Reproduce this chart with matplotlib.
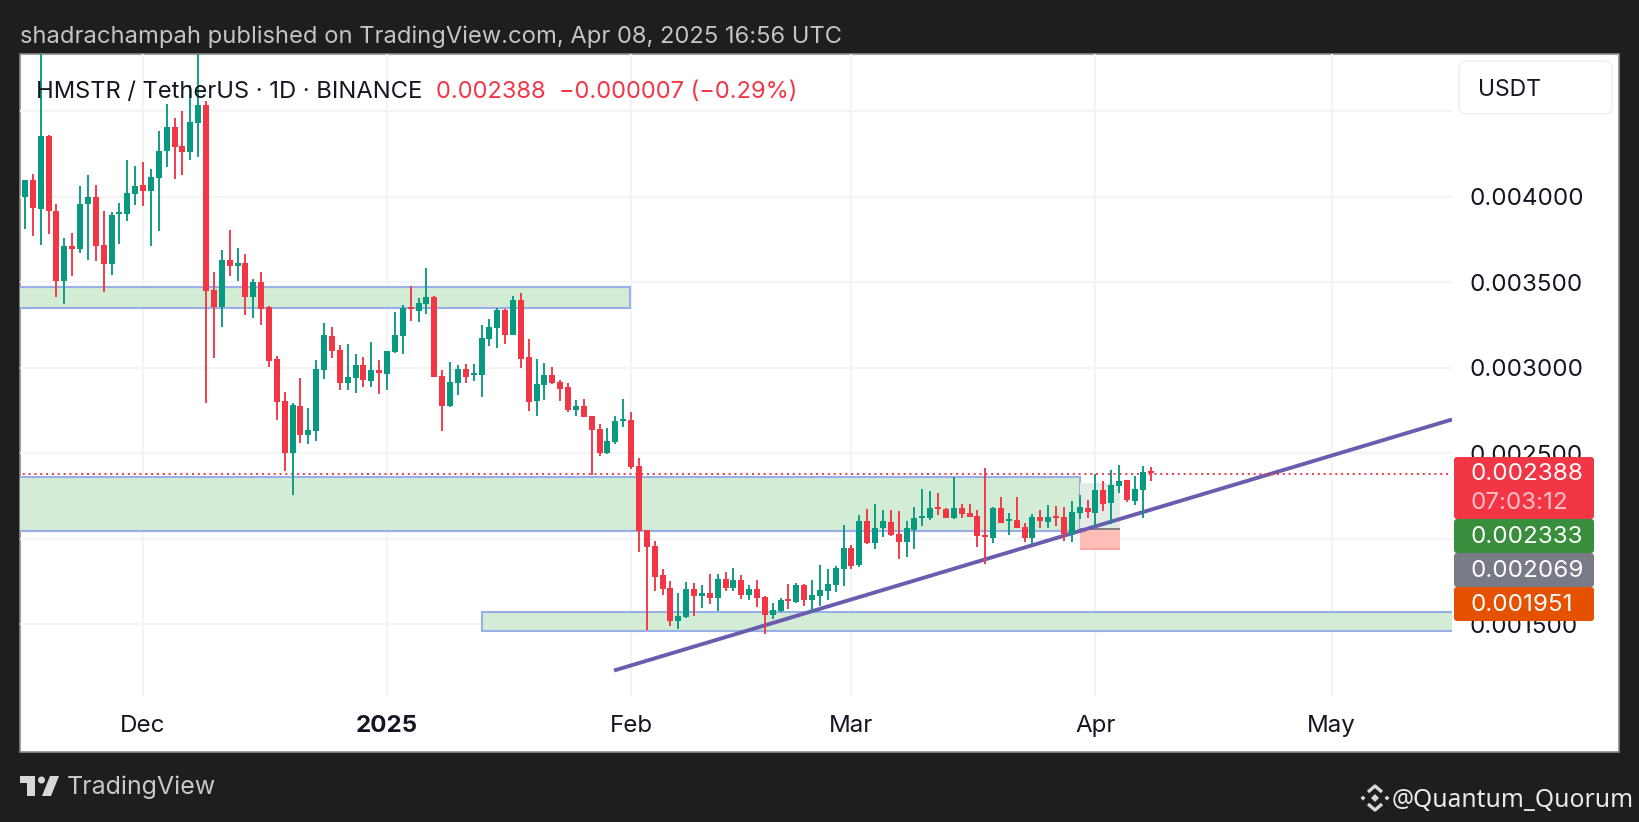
import numpy as np
import matplotlib
matplotlib.use("Agg")
import matplotlib.pyplot as plt
from matplotlib.patches import Rectangle, FancyBboxPatch, Polygon, Circle

plt.rcParams['font.family'] = ['Inter', 'DejaVu Sans']

# candles, prices in millionths of USDT, daily from 2024-11-16
opens = [4000, 4097, 3928, 4355, 3916, 3507, 3712, 3694, 3957, 3998, 3717, 3606, 3899, 3899, 4016, 4068,
         4033, 4109, 4267, 4407, 4296, 4261, 4431, 4536, 3454, 3355, 3630, 3595, 3612, 3413, 3501, 3355,
         3051, 2805, 2501, 2776, 2606, 2630, 2986, 3185, 3103, 2910, 2940, 3016, 2922, 2986, 2963, 3092,
         3185, 3355, 3331, 3372, 3413, 2951, 2776, 2910, 2992, 2957, 2957, 3168, 3232, 3337, 3191, 3396,
         3062, 2805, 2899, 2957, 2916, 2887, 2752, 2776, 2717, 2641, 2501, 2565, 2688, 2694, 2425, 2051,
         1957, 1788, 1712, 1519, 1542, 1706, 1665, 1682, 1653, 1764, 1712, 1758, 1671, 1706, 1659, 1554,
         1577, 1647, 1630, 1729, 1641, 1665, 1694, 1729, 1823, 1946, 1846, 2103, 1975, 2062, 2098, 2027,
         1981, 2051, 2121, 2121, 2185, 2174, 2121, 2179, 2150, 2133, 2022, 2004, 2179, 2103, 2109, 2068,
         2004, 2127, 2098, 2133, 2127, 2027, 2150, 2179, 2150, 2285, 2209, 2308, 2343, 2220, 2285, 2396]
closes = [4097, 3936, 4355, 3916, 3507, 3712, 3694, 3957, 3998, 3712, 3606, 3893, 3910, 4021, 4062, 4033,
          4115, 4267, 4407, 4290, 4261, 4437, 4536, 3448, 3355, 3630, 3595, 3612, 3413, 3501, 3343, 3039,
          2799, 2501, 2782, 2606, 2636, 2992, 3191, 3097, 2910, 2945, 3016, 2928, 2986, 2969, 3097, 3191,
          3349, 3343, 3378, 3413, 2945, 2776, 2916, 2992, 2945, 2969, 3173, 3238, 3337, 3191, 3396, 3051,
          2799, 2905, 2957, 2910, 2875, 2752, 2776, 2712, 2636, 2501, 2571, 2688, 2700, 2419, 2045, 1951,
          1776, 1706, 1519, 1548, 1706, 1665, 1682, 1653, 1764, 1712, 1758, 1671, 1706, 1653, 1554, 1583,
          1641, 1636, 1729, 1641, 1671, 1700, 1735, 1829, 1946, 1840, 2103, 1975, 2062, 2103, 2022, 1981,
          2062, 2121, 2133, 2179, 2174, 2121, 2179, 2144, 2127, 2016, 2010, 2179, 2092, 2115, 2062, 2004,
          2127, 2103, 2127, 2121, 2027, 2156, 2185, 2156, 2285, 2203, 2314, 2337, 2226, 2290, 2390, 2384]
highs = [4097, 4133, 5000, 4361, 3957, 3758, 3788, 4062, 4127, 4068, 3916, 3910, 3963, 4214, 4179, 4203,
         4162, 4384, 4542, 4460, 4501, 4653, 5000, 4559, 3559, 3688, 3805, 3700, 3665, 3519, 3559, 3361,
         3068, 2858, 2794, 2940, 2764, 3045, 3261, 3238, 3133, 3138, 3080, 3062, 3150, 3045, 3097, 3325,
         3366, 3478, 3407, 3583, 3419, 2986, 3033, 3016, 3021, 3021, 3249, 3285, 3349, 3343, 3419, 3437,
         3168, 3051, 3027, 3004, 2928, 2910, 2811, 2817, 2717, 2671, 2647, 2717, 2817, 2741, 2472, 2051,
         1986, 1823, 1753, 1682, 1747, 1741, 1729, 1794, 1794, 1805, 1829, 1788, 1729, 1758, 1665, 1624,
         1653, 1735, 1741, 1735, 1758, 1846, 1823, 1840, 2080, 1963, 2138, 2174, 2203, 2168, 2168, 2162,
         2103, 2185, 2290, 2279, 2267, 2179, 2361, 2203, 2203, 2168, 2413, 2185, 2244, 2150, 2244, 2092,
         2144, 2168, 2197, 2191, 2185, 2220, 2255, 2226, 2378, 2337, 2402, 2431, 2343, 2366, 2425, 2419]
lows = [3811, 3770, 3717, 3782, 3413, 3372, 3536, 3671, 3630, 3624, 3443, 3542, 3723, 3858, 3951, 3945,
        3712, 3799, 4173, 4103, 4127, 4214, 4232, 2794, 3057, 3238, 3536, 3507, 3308, 3291, 3250, 3004,
        2694, 2396, 2256, 2560, 2554, 2571, 2934, 3057, 2869, 2869, 2852, 2887, 2887, 2846, 2869, 3086,
        3080, 3273, 3267, 3314, 2945, 2630, 2770, 2840, 2910, 2922, 2828, 3127, 3115, 3138, 3191, 2998,
        2747, 2717, 2811, 2905, 2805, 2741, 2717, 2712, 2372, 2484, 2495, 2554, 2653, 2408, 1922, 1466,
        1694, 1671, 1489, 1472, 1536, 1548, 1595, 1618, 1577, 1694, 1694, 1647, 1641, 1601, 1443, 1530,
        1571, 1589, 1624, 1606, 1571, 1606, 1641, 1688, 1723, 1823, 1834, 1969, 1940, 2010, 2016, 1881,
        1893, 1940, 2074, 2109, 2138, 2121, 2115, 2121, 2127, 1951, 1852, 1975, 2092, 2022, 2062, 1981,
        1963, 2062, 2062, 2074, 1986, 1981, 2115, 2121, 2074, 2162, 2086, 2267, 2214, 2197, 2121, 2337]

# drawings on the chart
zone_left = [-1, -1, 58.0]
zone_right = [76.9, 134, 182]
zone_top = [3474, 2363, 1571]
zone_bottom = [3349, 2045, 1460]
trend_x = [74.84, 181.3]
trend_y = [1229, 2697]
price_line = 2380
pos_x = [134, 139.1]
pos_top, pos_entry, pos_stop = 2328, 2057, 1938

month_pos = [15, 46, 77, 105, 136, 166]
month_labels = ['Dec', '2025', 'Feb', 'Mar', 'Apr', 'May']
price_ticks = [1500, 2000, 2500, 3000, 3500, 4000, 4500]
price_labels = ['0.001500', '', '0.002500', '0.003000', '0.003500', '0.004000', '']
tag_text = ['0.002333', '0.002069', '0.001951']
tag_colors = ['#388e3c', '#787b86', '#e65100']
tag_tops = [519, 553, 587]

GREEN = '#089981'
RED = '#f23645'
W, H = 1640, 822

fig = plt.figure(figsize=(16.4, 8.22), dpi=100, facecolor='#1e1e1e')

# white panel behind the chart
back = fig.add_axes([0, 0, 1, 1], zorder=0)
back.set_xlim(0, W)
back.set_ylim(H, 0)
back.axis('off')
back.add_patch(Rectangle((20, 54), 1599, 697.5, fc='white', ec='#8a8a8a', lw=1.2))

# chart area, 20..1452 x 54..696 in pixels
ax = fig.add_axes([20 / W, 1 - 696 / H, 1432 / W, 642 / H], zorder=1)
ax.patch.set_alpha(0)
ax.set_xlim(-0.635, 181.3)
ax.set_ylim(1080, 4834.5)
for s in ax.spines.values():
    s.set_visible(False)
ax.set_axisbelow(True)
ax.grid(True, color='#f4f4f4', lw=1.5)
ax.set_xticks(month_pos, month_labels, fontsize=17.4, color='#131722')
ax.get_xticklabels()[1].set_fontweight('bold')
ax.yaxis.tick_right()
ax.set_yticks(price_ticks, price_labels, fontsize=17.4, color='#131722')
ax.tick_params(axis='both', length=0)
ax.tick_params(axis='x', pad=14)
ax.tick_params(axis='y', pad=12.5)

x = np.arange(len(opens))
o, c, h, l = map(np.array, (opens, closes, highs, lows))

for i in range(3):
    ax.add_patch(Rectangle((zone_left[i], zone_bottom[i]), zone_right[i] - zone_left[i],
                           zone_top[i] - zone_bottom[i], fc='#d3ecd5', ec='#9aaee8', lw=1.5, zorder=1.5))

ax.add_patch(Rectangle((pos_x[0], pos_entry), pos_x[1] - pos_x[0], pos_top - pos_entry, fc='#e2ebe5', zorder=1.6))
ax.add_patch(Rectangle((pos_x[0], pos_stop), pos_x[1] - pos_x[0], pos_entry - pos_stop, fc='#ffbdb8', zorder=1.6))
ax.plot(pos_x, [pos_entry, pos_entry], color='#808080', lw=1.4, zorder=1.7, solid_capstyle='butt')
ax.plot(pos_x, [pos_stop, pos_stop], color='#ff9c98', lw=1.2, zorder=1.7, solid_capstyle='butt')

ax.plot(trend_x, trend_y, color='#6b5cb0', lw=2.8, zorder=2, solid_capstyle='butt')
ax.plot([-1, 182], [price_line, price_line], color=RED, lw=1.4, ls=(0, (1, 2)), zorder=2.1)

colors = np.where(c >= o, GREEN, RED)
ax.vlines(x, l, h, colors=colors, lw=1.35, zorder=3)
ax.bar(x, np.abs(c - o), bottom=np.minimum(o, c), width=0.76, color=colors, zorder=3.1)

# everything laid over the chart, in pixel coordinates
ov = fig.add_axes([0, 0, 1, 1], zorder=2)
ov.patch.set_alpha(0)
ov.set_xlim(0, W)
ov.set_ylim(H, 0)
ov.axis('off')

ov.text(20, 37, 'shadrachampah published on TradingView.com, Apr 08, 2025 16:56 UTC',
        color='#c4c4c4', fontsize=17.1, va='center')
ov.text(36, 92, 'HMSTR / TetherUS · 1D · BINANCE', color='#131722', fontsize=17.05, va='center')
ov.text(436, 92, '0.002388  −0.000007 (−0.29%)', color=RED, fontsize=17, va='center')

ov.add_patch(FancyBboxPatch((1463, 65), 145, 45, boxstyle='round,pad=4,rounding_size=8',
                            fc='white', ec='#f0f0f0', lw=1.2))
ov.text(1478, 90, 'USDT', color='#131722', fontsize=16.5, va='center')

ov.add_patch(FancyBboxPatch((1456, 459), 136, 58, boxstyle='round,pad=2,rounding_size=3', fc=RED, ec='none'))
ov.text(1471, 474, '0.002388', color='white', fontsize=17.4, va='center')
ov.text(1471, 503, '07:03:12', color='#fbc1c6', fontsize=17.4, va='center')
for txt, col, top in zip(tag_text, tag_colors, tag_tops):
    ov.add_patch(FancyBboxPatch((1456, top + 2), 136, 30, boxstyle='round,pad=2,rounding_size=3', fc=col, ec='none'))
    ov.text(1471, top + 18, txt, color='white', fontsize=17.4, va='center')

# TradingView logo
logo = '#d8d8d8'
ov.add_patch(Polygon([(20, 776), (35, 776), (35, 796), (27, 796), (27, 783), (20, 783)], fc=logo, ec='none'))
ov.add_patch(Circle((41.5, 780), 3.5, fc=logo, ec='none'))
ov.add_patch(Polygon([(50, 776), (59, 776), (51, 796), (42, 796)], fc=logo, ec='none'))
ov.text(67, 787, 'TradingView', color='#c8c8c8', fontsize=18, va='center')

# Binance mark
bx, by = 1375, 798
ov.add_patch(Polygon([(bx - 4, by), (bx, by - 4), (bx + 4, by), (bx, by + 4)], fc=logo, ec='none'))
for dx in (-12, 12):
    ov.add_patch(Polygon([(bx + dx - 2.5, by), (bx + dx, by - 2.5), (bx + dx + 2.5, by), (bx + dx, by + 2.5)],
                         fc=logo, ec='none'))
for sy in (-1, 1):
    ov.plot([bx - 7, bx, bx + 7], [by + sy * 6, by + sy * 12, by + sy * 6], color=logo, lw=2.4, solid_capstyle='butt')
ov.text(1392, 800, '@Quantum_Quorum', color='#e8e8e8', fontsize=17.7, va='center', family='Noto Sans')

fig.savefig('out.png', dpi=100, facecolor=fig.get_facecolor())
